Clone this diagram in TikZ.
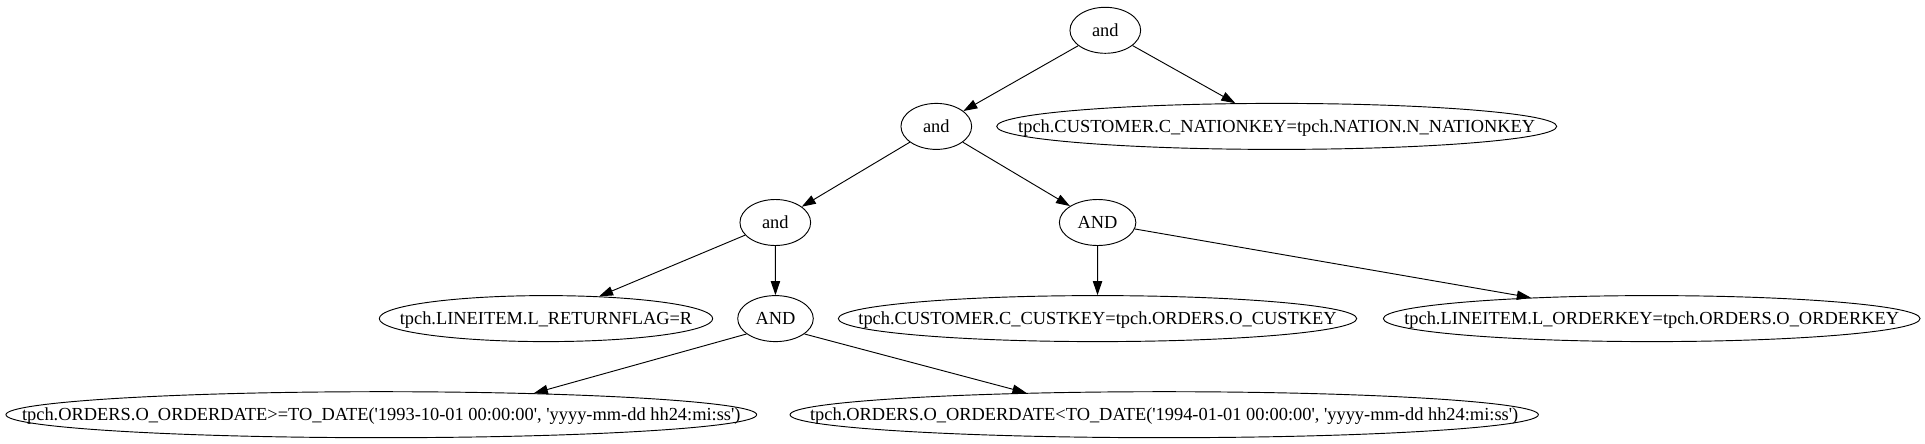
\documentclass[tikz,border=0pt]{standalone}
\usepackage{fontspec}
\setmainfont{Liberation Serif}[Ligatures=TeXOff]
\usepackage{tikz}
\usetikzlibrary{arrows.meta,shapes.geometric}
\newcommand{\nowide}[1]{\makebox[0pt]{#1}}

\begin{document}
\begin{tikzpicture}[x=0.75pt,y=-0.75pt,
  op/.style={ellipse,draw,line width=0.7pt,inner sep=0pt,minimum height=34.5pt,
    text height=11pt,text depth=2pt,font=\fontsize{13.8}{16}\selectfont},
  ew/.style={minimum width=#1*0.75pt},
  link/.style={-{Triangle[length=10.5pt,width=7pt]},line width=0.7pt}]
\useasboundingbox (0,0) rectangle (1925,443);
\node[op,ew=70.7] (and1) at (1105.3,30.3) {and};
\node[op,ew=70.7] (and2) at (936.3,126.4) {and};
\node[op,ew=560] (natkey) at (1276.7,126.4) {\nowide{tpch.CUSTOMER.C\_NATIONKEY=tpch.NATION.N\_NATIONKEY}};
\node[op,ew=70.7] (and3) at (775.3,222.5) {and};
\node[op,ew=76.5] (AND1) at (1097.6,222.5) {AND};
\node[op,ew=333.4] (retflag) at (546,318.6) {\nowide{tpch.LINEITEM.L\_RETURNFLAG=R}};
\node[op,ew=75.6] (AND2) at (775.5,318.6) {AND};
\node[op,ew=518.4] (custkey) at (1097.5,318.6) {\nowide{tpch.CUSTOMER.C\_CUSTKEY=tpch.ORDERS.O\_CUSTKEY}};
\node[op,ew=536.7] (ordkey) at (1651.7,318.6) {\nowide{tpch.LINEITEM.L\_ORDERKEY=tpch.ORDERS.O\_ORDERKEY}};
\node[op,ew=750.7] (date1) at (381.3,414.7) {\nowide{tpch.ORDERS.O\_ORDERDATE>=TO\_DATE('1993-10-01 00:00:00', 'yyyy-mm-dd hh24:mi:ss')}};
\node[op,ew=748.3] (date2) at (1164.2,414.7) {\nowide{tpch.ORDERS.O\_ORDERDATE<TO\_DATE('1994-01-01 00:00:00', 'yyyy-mm-dd hh24:mi:ss')}};
\draw[link] (and1) -- (and2);
\draw[link] (and1) -- (natkey);
\draw[link] (and2) -- (and3);
\draw[link] (and2) -- (AND1);
\draw[link] (and3) -- (retflag);
\draw[link] (and3) -- (AND2);
\draw[link] (AND1) -- (custkey);
\draw[link] (AND1) -- (ordkey);
\draw[link] (AND2.208) -- (date1.8);
\draw[link] (AND2.332) -- (date2.171);
\end{tikzpicture}
\end{document}
